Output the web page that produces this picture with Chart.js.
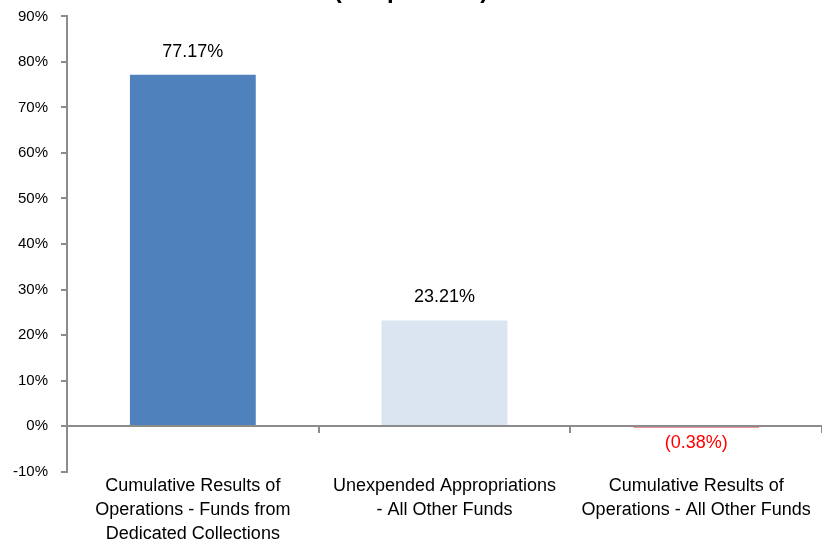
<!DOCTYPE html>
<html>
<head>
<meta charset="utf-8">
<script src="https://cdn.jsdelivr.net/npm/chart.js@4.4.1/dist/chart.umd.min.js"></script>
<style>
  html, body { margin: 0; padding: 0; background: #fff; }
  #wrap { width: 822px; height: 548px; position: relative; }
</style>
</head>
<body>
<div id="wrap"><canvas id="chart"></canvas></div>
<script>
// data
var categories = [
  ['Cumulative Results of', 'Operations - Funds from', 'Dedicated Collections'],
  ['Unexpended Appropriations', '- All Other Funds'],
  ['Cumulative Results of', 'Operations - All Other Funds']
];
var shares = [77.17, 23.21, -0.38];
var titleText = '(Net position)';

var yMin = -10, yMax = 90, yStep = 10;

Chart.defaults.font.family = "'Liberation Sans', Arial, sans-serif";
Chart.defaults.color = '#000';

function fmt(v) {
  return v < 0 ? '(' + Math.abs(v).toFixed(2) + '%)' : v.toFixed(2) + '%';
}

// value labels above / below each bar
var valueLabels = {
  id: 'valueLabels',
  afterDatasetsDraw: function(chart) {
    var ctx = chart.ctx;
    var meta = chart.getDatasetMeta(0);
    ctx.save();
    ctx.font = '18px ' + Chart.defaults.font.family;
    ctx.textAlign = 'center';
    ctx.textBaseline = 'middle';
    meta.data.forEach(function(bar, i) {
      var v = shares[i];
      if (v < 0) {
        ctx.fillStyle = '#ff0000';
        ctx.fillText(fmt(v), bar.x, bar.y + 15);
      } else {
        ctx.fillStyle = '#000';
        ctx.fillText(fmt(v), bar.x, bar.y - 23);
      }
    });
    ctx.restore();
  }
};

var axisGrey = '#8c8c8c';

new Chart(document.getElementById('chart'), {
  type: 'bar',
  data: {
    labels: categories,
    datasets: [{
      data: shares,
      backgroundColor: ['#4f81bd', '#dbe5f1', '#e8202a'],
      borderColor: ['#4f81bd', '#dbe5f1', '#e8202a'],
      borderWidth: [0, 0, 1],
      barPercentage: 0.5,
      categoryPercentage: 1
    }]
  },
  options: {
    responsive: true,
    maintainAspectRatio: false,
    animation: false,
    layout: { padding: { left: 0, right: 0, top: 0, bottom: 0 } },
    plugins: {
      legend: { display: false },
      tooltip: { enabled: false },
      title: {
        display: true,
        text: titleText,
        font: { size: 24, weight: 'bold' },
        color: '#000',
        padding: { top: -35, bottom: 11 }
      }
    },
    scales: {
      y: {
        min: yMin,
        max: yMax,
        ticks: {
          stepSize: yStep,
          padding: 13,
          font: { size: 15, lineHeight: 0.45 },
          callback: function(v) { return v + '%'; }
        },
        grid: { drawOnChartArea: false, drawTicks: true, tickLength: 6, color: axisGrey, lineWidth: 2 },
        border: { display: true, color: axisGrey, width: 2 }
      },
      x: {
        position: { y: 0 },
        ticks: { display: false },
        grid: {
          drawOnChartArea: false,
          drawTicks: true,
          tickLength: 6,
          lineWidth: 2,
          offset: true,
          color: function(c) { return c.index === categories.length ? 'rgba(0,0,0,0)' : axisGrey; }
        },
        border: { display: true, color: axisGrey, width: 2 }
      },
      x2: {
        type: 'category',
        position: 'bottom',
        offset: true,
        ticks: {
          padding: 2,
          maxRotation: 0,
          autoSkip: false,
          font: { size: 18, lineHeight: 1.34 }
        },
        grid: { display: false, drawTicks: false },
        border: { display: false }
      }
    }
  },
  plugins: [valueLabels]
});
</script>
</body>
</html>
